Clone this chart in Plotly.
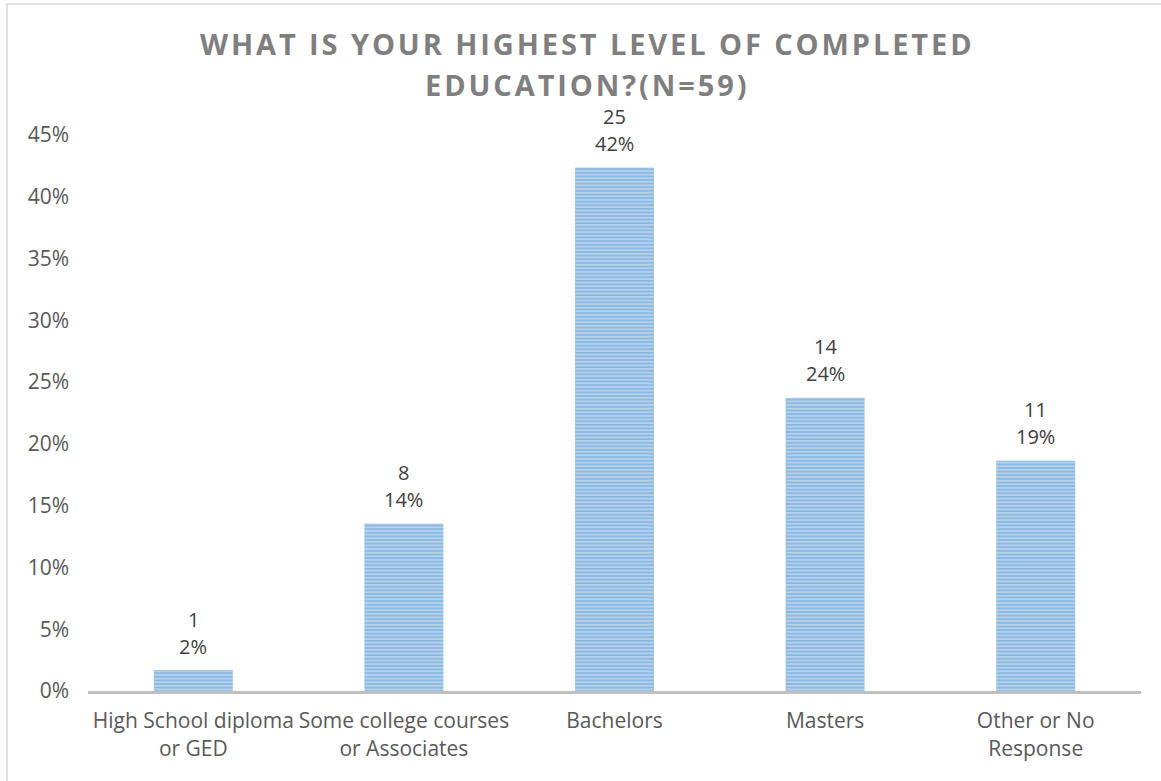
import plotly.graph_objects as go

# Survey responses: highest completed education (N = 59)
categories = [
    "High School diploma<br>or GED",
    "Some college courses<br>or Associates",
    "Bachelors",
    "Masters",
    "Other or No<br>Response",
]
counts = [1, 8, 25, 14, 11]
shares = [0.0169, 0.1356, 0.4237, 0.2373, 0.1864]

title_lines = ["WHAT IS YOUR HIGHEST LEVEL OF COMPLETED", "EDUCATION?(N=59)"]
y_ticks = [0, 0.05, 0.10, 0.15, 0.20, 0.25, 0.30, 0.35, 0.40, 0.45]

FONT = "Open Sans"
W, H = 1161, 781
L, R, T, B = 88, 20, 135, 90


def spaced(s):
    # widen the tracking of the heading with hair spaces
    return "\u200a".join(s)


def py_to_paper(py):
    return (H - B - py) / (H - B - T)


def px_to_paper(px):
    return (px - L) / (W - L - R)


fig = go.Figure(
    go.Bar(
        x=categories,
        y=shares,
        marker=dict(
            color="#BDD7EE",
            line=dict(width=0),
            pattern=dict(shape="-", fgcolor="#5B9BD5", size=3.6, solidity=0.6),
        ),
        hoverinfo="skip",
    )
)

annotations = []
for cat, n, s in zip(categories, counts, shares):
    annotations.append(dict(x=cat, y=s, xref="x", yref="y", text=f"{s:.0%}",
                            showarrow=False, yanchor="middle", yshift=24,
                            font=dict(family=FONT, size=20, color="#404040")))
    annotations.append(dict(x=cat, y=s, xref="x", yref="y", text=str(n),
                            showarrow=False, yanchor="middle", yshift=51,
                            font=dict(family=FONT, size=20, color="#404040")))

for line, cy in zip(title_lines, [44, 85]):
    annotations.append(dict(x=px_to_paper(586), y=py_to_paper(cy), xref="paper", yref="paper",
                            text=spaced(line), showarrow=False, xanchor="center", yanchor="middle",
                            font=dict(family=FONT, size=29, color="#7F7F7F", weight="bold")))

# chart frame (left and top edges visible)
shapes = [dict(type="rect", xref="paper", yref="paper",
               x0=px_to_paper(7), x1=px_to_paper(1175),
               y0=py_to_paper(800), y1=py_to_paper(4),
               line=dict(color="#D9D9D9", width=1.5), fillcolor="rgba(0,0,0,0)", layer="below")]

fig.update_layout(
    width=W, height=H,
    margin=dict(l=L, r=R, t=T, b=B),
    paper_bgcolor="white", plot_bgcolor="white",
    bargap=0.625,
    showlegend=False,
    annotations=annotations,
    shapes=shapes,
    font=dict(family=FONT, size=21, color="#595959"),
    xaxis=dict(
        type="category",
        showline=True, linecolor="#BFBFBF", linewidth=3,
        ticks="", showgrid=False, zeroline=False,
        ticklabelstandoff=9,
        tickfont=dict(family=FONT, size=21, color="#595959"),
    ),
    yaxis=dict(
        range=[0, 0.45],
        tickvals=y_ticks,
        tickformat=".0%",
        showgrid=False, zeroline=False, showline=False, ticks="",
        ticklabelstandoff=18,
        tickfont=dict(family=FONT, size=21, color="#595959"),
    ),
)

fig.write_html("out.html")
